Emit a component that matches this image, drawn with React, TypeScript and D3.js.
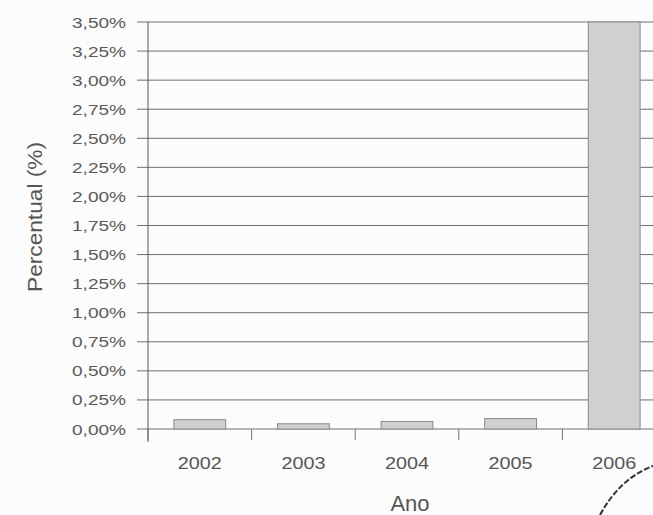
import React from "react";
import * as d3 from "d3";

const years = ["2002", "2003", "2004", "2005", "2006"];
const values = [0.08, 0.045, 0.065, 0.09, 3.5];
const yTicks = [0, 0.25, 0.5, 0.75, 1, 1.25, 1.5, 1.75, 2, 2.25, 2.5, 2.75, 3, 3.25, 3.5];

const W = 653;
const H = 515;
const left = 148;
const right = 666;
const top = 22;
const bottom = 429;

export default function App() {
  const x = d3.scaleBand<string>().domain(years).range([left, right]).paddingInner(0).paddingOuter(0);
  const y = d3.scaleLinear().domain([0, 3.5]).range([bottom, top]);
  const bw = x.bandwidth() * 0.5;
  const fmt = (v: number) => v.toFixed(2).replace(".", ",") + "%";
  const font = "'Liberation Sans', Arial, sans-serif";
  return (
    <svg width={W} height={H} style={{ position: "absolute", left: 0, top: 0, background: "#fcfcfc" }}>
      <rect x={0} y={0} width={W} height={H} fill="#fcfcfc" />
      {yTicks.map((t) => (
        <g key={t}>
          <line x1={left - 11} x2={W} y1={y(t)} y2={y(t)} stroke="#6e6e6e" strokeWidth={1} />
          <text
            x={126}
            y={y(t) + 5.5}
            textAnchor="end"
            fontFamily={font}
            fontSize={15.5}
            textLength={54}
            lengthAdjust="spacingAndGlyphs"
            fill="#5a5a5a"
          >
            {fmt(t)}
          </text>
        </g>
      ))}
      <line x1={left} x2={left} y1={top} y2={bottom + 13} stroke="#555" strokeWidth={1} />
      {years.map((yr) => (
        <line key={"t" + yr} x1={x(yr)!} x2={x(yr)!} y1={bottom} y2={bottom + 11} stroke="#777" strokeWidth={1} />
      ))}
      {years.map((yr, i) => (
        <rect
          key={yr}
          x={x(yr)! + (x.bandwidth() - bw) / 2}
          y={y(values[i])}
          width={bw}
          height={bottom - y(values[i])}
          fill="#d0d0d0"
          stroke="#8a8a8a"
          strokeWidth={1}
        />
      ))}
      {years.map((yr) => (
        <text
          key={"l" + yr}
          x={x(yr)! + x.bandwidth() / 2}
          y={469}
          textAnchor="middle"
          fontFamily={font}
          fontSize={17}
          textLength={44}
          lengthAdjust="spacingAndGlyphs"
          fill="#555"
        >
          {yr}
        </text>
      ))}
      <text x={410} y={511} textAnchor="middle" fontFamily={font} fontSize={22} fill="#555">
        Ano
      </text>
      <text
        transform={`translate(42,217) rotate(-90)`}
        textAnchor="middle"
        fontFamily={font}
        fontSize={21}
        textLength={150}
        lengthAdjust="spacingAndGlyphs"
        fill="#555"
      >
        Percentual (%)
      </text>
      <path d="M600,515 Q620,478 653,466" fill="none" stroke="#333" strokeWidth={2} strokeDasharray="6,2" />
    </svg>
  );
}
